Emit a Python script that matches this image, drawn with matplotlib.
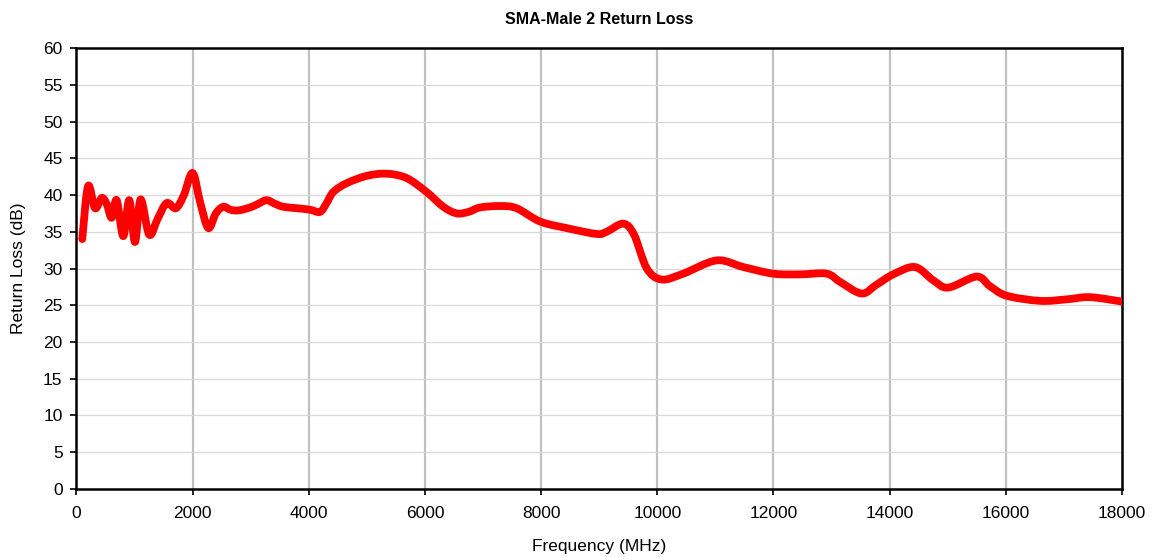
import matplotlib
matplotlib.use("Agg")
import matplotlib.pyplot as plt
from matplotlib.path import Path
from matplotlib.patches import PathPatch
import numpy as np

# values
freq_mhz = [100, 200, 320, 434, 520, 606, 692, 806, 909, 1007, 1105, 1253,
            1400, 1553, 1713, 1850, 2000, 2130, 2269, 2400, 2527, 2650, 2786,
            2987, 3130, 3274, 3420, 3560, 3800, 4020, 4192, 4300, 4421, 4651,
            4996, 5340, 5685, 6029, 6316, 6545, 6750, 6947, 7291, 7578, 7980,
            8439, 8956, 9128, 9415, 9600, 9820, 10075, 10447, 11021,
            11480, 11996, 12455, 12914, 13143, 13516, 13774, 14061, 14434,
            14750, 15008, 15497, 15726, 16013, 16587, 17046, 17447, 18000]
return_loss = [34.0, 41.2, 38.2, 39.6, 38.8, 36.9, 39.3, 34.4, 39.3, 33.6, 39.4, 34.6,
               36.8, 38.9, 38.2, 40.0, 43.0, 39.0, 35.5, 37.5, 38.4, 38.0, 37.9,
               38.3, 38.8, 39.3, 38.8, 38.4, 38.2, 38.0, 37.7, 38.8, 40.4, 41.6,
               42.6, 42.9, 42.3, 40.4, 38.4, 37.5, 37.7, 38.3, 38.5, 38.2, 36.4,
               35.5, 34.7, 35.0, 36.1, 34.6, 30.0, 28.5, 29.3, 31.1,
               30.2, 29.3, 29.2, 29.3, 28.2, 26.6, 27.8, 29.2, 30.2,
               28.4, 27.4, 28.9, 27.6, 26.3, 25.6, 25.8, 26.1, 25.5]


def smooth_path(x, y):
    # Excel-style smoothed line: cubic bezier segments through every point
    pts = np.column_stack([x, y]).astype(float)
    ext = np.vstack([pts[0], pts, pts[-1]])
    verts = [pts[0]]
    codes = [Path.MOVETO]
    for i in range(1, len(ext) - 2):
        p0, p1, p2, p3 = ext[i - 1], ext[i], ext[i + 1], ext[i + 2]
        verts += [p1 + (p2 - p0) / 6, p2 - (p3 - p1) / 6, p2]
        codes += [Path.CURVE4] * 3
    return Path(verts, codes)


plt.rcParams['font.family'] = ['Liberation Sans', 'DejaVu Sans']

fig = plt.figure(figsize=(11.53, 5.57), dpi=100)
ax = fig.add_axes([0.0663, 0.1221, 0.9068, 0.7917])

# vertical grid darker than horizontal, like the Excel original
for xv in range(2000, 18000, 2000):
    ax.axvline(xv, color='#c0c0c0', linewidth=1.6, zorder=1)
for yv in range(5, 60, 5):
    ax.axhline(yv, color='#d9d9d9', linewidth=0.9, zorder=1)

line = PathPatch(smooth_path(freq_mhz, return_loss), facecolor='none',
                 edgecolor='#ff0000', linewidth=5.6, joinstyle='round',
                 capstyle='round', zorder=3)
ax.add_patch(line)

ax.set_xlim(0, 18000)
ax.set_ylim(0, 60)
ax.set_xticks(np.arange(0, 18001, 2000))
ax.set_yticks(np.arange(0, 61, 5))
ax.tick_params(direction='out', length=4, width=1.2, labelsize=12.5)
ax.tick_params(axis='x', pad=8)
ax.tick_params(axis='y', pad=6)
for sp in ax.spines.values():
    sp.set_linewidth(1.8)
    sp.set_color('black')

ax.set_title('SMA-Male 2 Return Loss', fontsize=11.5, fontweight='bold', pad=17)
ax.set_xlabel('Frequency (MHz)', fontsize=12.5, labelpad=13)
ax.set_ylabel('Return Loss (dB)', fontsize=12.5, labelpad=12)

fig.savefig('out.png', dpi=100)
